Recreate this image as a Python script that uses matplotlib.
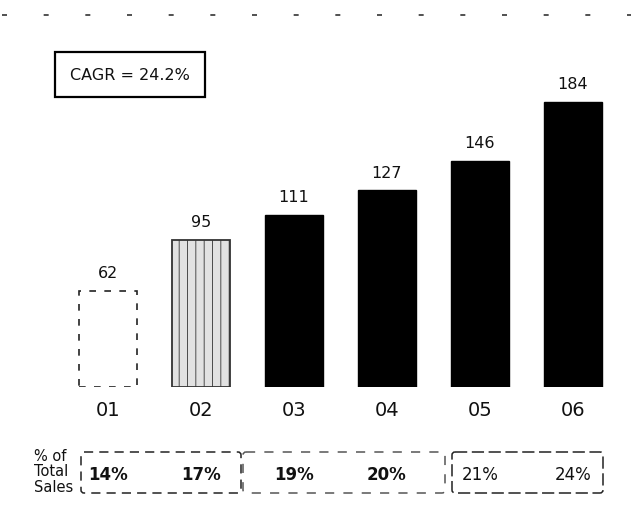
import matplotlib
matplotlib.use("Agg")
import matplotlib.pyplot as plt
from matplotlib.patches import FancyBboxPatch, Rectangle
from matplotlib.transforms import blended_transform_factory

years = ["01", "02", "03", "04", "05", "06"]
sales = [62, 95, 111, 127, 146, 184]
share_of_total = ["14%", "17%", "19%", "20%", "21%", "24%"]
cagr_text = "CAGR = 24.2%"

matplotlib.rcParams["hatch.color"] = "#8a8a8a"
matplotlib.rcParams["hatch.linewidth"] = 0.6

W, H = 633, 527
fig = plt.figure(figsize=(W / 100, H / 100), dpi=100)
fig.patch.set_facecolor("white")

# page-space overlay (pixels, origin top-left) for frames and side labels
page = fig.add_axes([0, 0, 1, 1], zorder=0)
page.set_xlim(0, W)
page.set_ylim(H, 0)
page.axis("off")

# bar axes: baseline at y=387 px, ~1.55 px per unit, ~93 px per category
base_px = 387
px_per_unit = 1.549
top_px = 40
step = 92.9
first_center = 108.2
left_px = first_center - 0.6 * step
ax = fig.add_axes([left_px / W, (H - base_px) / H, 6.2 * step / W,
                   (base_px - top_px) / H], zorder=1)
ax.patch.set_alpha(0)
ax.set_xlim(-0.6, 5.6)
ax.set_ylim(0, (base_px - top_px) / px_per_unit)
ax.axis("off")

x = list(range(len(years)))
bw = 0.625
bars = ax.bar(x, sales, width=bw, color="black", edgecolor="black", linewidth=1)

# 01: outline only, dashed
bars[0].set_facecolor("white")
bars[0].set_edgecolor("#222222")
bars[0].set_linestyle((0, (4, 5)))
bars[0].set_linewidth(1.2)

# 02: light stippled fill
bars[1].set_facecolor("#e2e2e2")
bars[1].set_edgecolor("#333333")
bars[1].set_hatch("||")
bars[1].set_linewidth(1.3)

for xi, v in zip(x, sales):
    ax.annotate(str(v), (xi, v), xytext=(0, 7), textcoords="offset points",
                ha="center", va="bottom", fontsize=11.5, color="#111111")

# year labels under the bars
tr_x = blended_transform_factory(ax.transData, page.transData)
for xi, y in zip(x, years):
    page.text(xi, 411, y, transform=tr_x, ha="center", va="center",
              fontsize=14, color="#111111")

# CAGR box
page.add_patch(Rectangle((55, 52), 150, 45, fill=False, edgecolor="black", linewidth=1.6))
page.text(130, 75, cagr_text, ha="center", va="center", fontsize=11.5, color="#111111")

# faint dashed rule across the top of the page
page.plot([2, 631], [15, 15], color="#333333", linewidth=1.2,
          linestyle=(0, (3, 22)))

# share-of-sales strip
page.text(34, 472, "% of\nTotal\nSales", ha="left", va="center", fontsize=10.5,
          linespacing=1.05, color="#111111")
frames = [(81, 241, "#222222", (0, (6, 4))),
          (243, 445, "#555555", (0, (6, 6))),
          (452, 603, "#222222", (0, (8, 3)))]
for x0, x1, col, ls in frames:
    page.add_patch(FancyBboxPatch((x0, 452), x1 - x0, 41,
                                  boxstyle="round,pad=0,rounding_size=3",
                                  fill=False, edgecolor=col, linewidth=1.1,
                                  linestyle=ls))
for xi, s in zip(x, share_of_total):
    weight = "bold" if xi < 4 else "normal"
    page.text(xi, 475, s, transform=tr_x, ha="center", va="center",
              fontsize=12, fontweight=weight, color="#111111")

fig.savefig("out.png", dpi=100, facecolor="white")
